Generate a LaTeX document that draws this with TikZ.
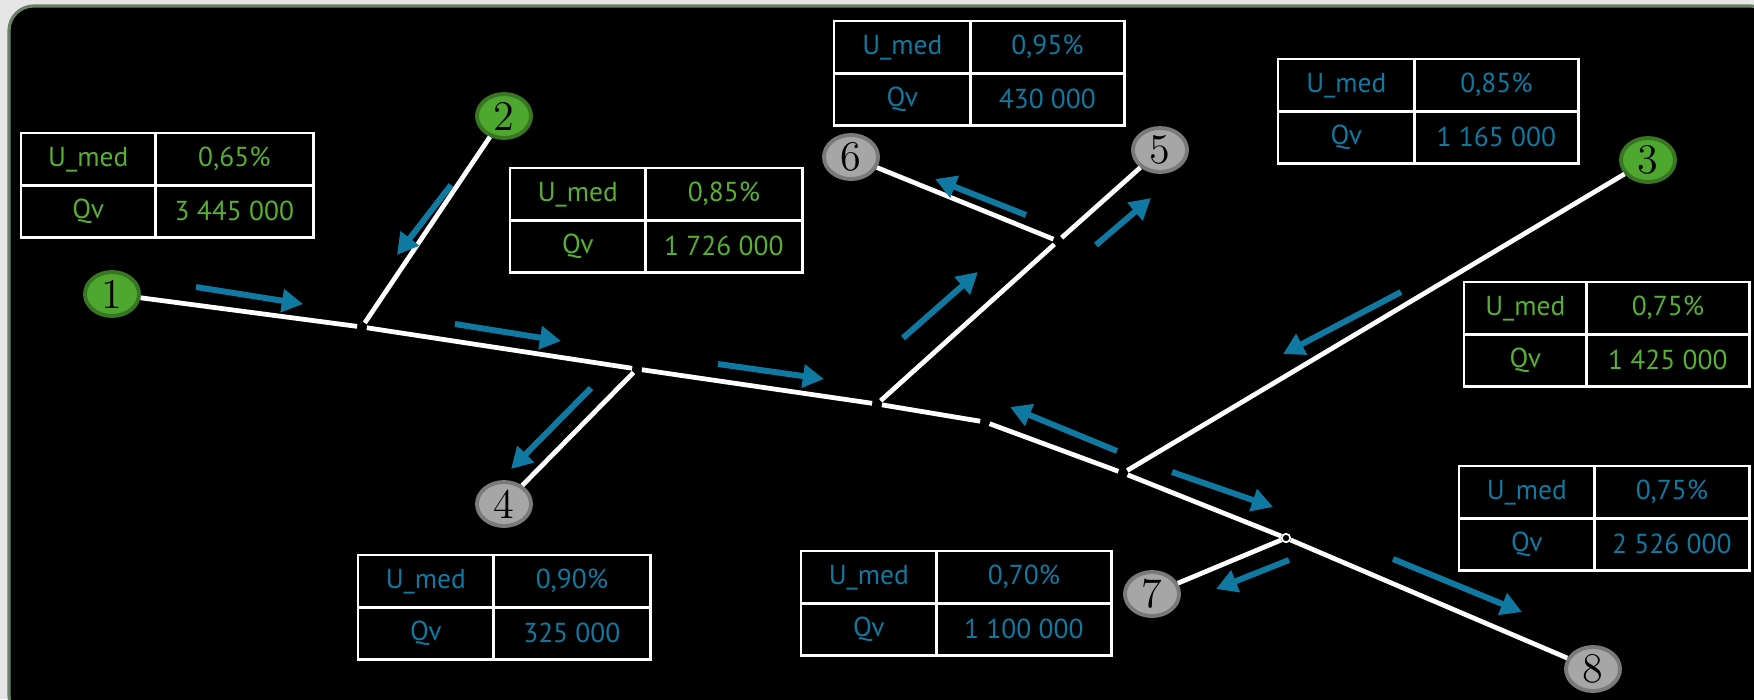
\documentclass[tikz,border=0pt]{standalone}
\usepackage{fontspec}
\setsansfont{PT Sans}
\usepackage{tikz}
\usetikzlibrary{positioning,shapes.geometric,arrows.meta}

\definecolor{flowblue}{RGB}{16,121,161}
\definecolor{srcgreen}{RGB}{78,167,46}
\definecolor{srcedge}{RGB}{56,118,34}
\definecolor{txtgreen}{RGB}{88,176,50}
\definecolor{sinkgray}{RGB}{166,166,166}
\definecolor{sinkedge}{RGB}{122,122,122}
\definecolor{frameedge}{RGB}{106,128,104}
\definecolor{pagegray}{RGB}{230,230,230}

\tikzset{
    src/.style={ellipse, draw=srcedge, fill=srcgreen, line width=1.1pt,
        minimum width=0.54cm, minimum height=0.44cm, inner sep=0pt,
        font=\fontsize{12}{12}\selectfont},
    sink/.style={src, draw=sinkedge, fill=sinkgray},
    jdot/.style={circle, fill=black, inner sep=0pt, minimum size=2.4pt},
    pipe/.style={draw=white, line width=1.35pt},
    flow/.style={draw=flowblue, line width=1.7pt, -{Triangle[length=6pt,width=6.4pt]}},
    utab/.style 2 args={anchor=north west, inner sep=0pt, outer sep=0pt,
        column sep=-0.7pt, row sep=-0.7pt,
        nodes={draw=white, line width=0.7pt, minimum height=0.52cm, inner sep=0pt,
            anchor=center, font=\sffamily\fontsize{7.8}{9}\selectfont},
        column 1/.style={nodes={minimum width=#1}},
        column 2/.style={nodes={minimum width=#2}}}
}

\begin{document}
\begin{tikzpicture}[x=0.01cm, y=-0.01cm]
    % page and frame
    \fill[pagegray] (0,0) rectangle (1754,699);
    \useasboundingbox (0,0) rectangle (1754,699);
    \clip (0,0) rectangle (1754,699);
    \draw[frameedge, fill=black, line width=0.9pt, rounded corners=7pt] (9,6) rectangle (1775,720);

    % end points
    \node[src] (n1) at (112,294) {1};
    \node[src] (n2) at (504,116) {2};
    \node[src] (n3) at (1648,160) {3};
    \node[sink] (n4) at (504,504) {4};
    \node[sink] (n5) at (1160,150) {5};
    \node[sink] (n6) at (851,157) {6};
    \node[sink] (n7) at (1152,594) {7};
    \node[sink] (n8) at (1593,669) {8};

    % junctions
    \node[jdot] (j1) at (362,327) {};
    \node[jdot] (j2) at (637,369) {};
    \node[jdot] (j3) at (877,404) {};
    \node[jdot] (j4) at (985,422) {};
    \node[jdot] (j5) at (1123,473) {};
    \node[jdot, draw=white, line width=0.5pt] (j6) at (1286,538) {};
    \node[jdot] (j7) at (1058,241) {};

    % pipes
    \draw[pipe] (j1) edge (n1) edge (n2) edge (j2);
    \draw[pipe] (j2) edge (n4) edge (j3);
    \draw[pipe] (j3) edge (j7) edge (j4);
    \draw[pipe] (j7) edge (n5) edge (n6);
    \draw[pipe] (j4) edge (j5);
    \draw[pipe] (j5) edge (n3) edge (j6);
    \draw[pipe] (j6) edge (n7) edge (n8);

    % flow directions
    \draw[flow] (196,287) -- (303,304);
    \draw[flow] (451,185) -- (397,255);
    \draw[flow] (455,324) -- (561,341);
    \draw[flow] (591,388) -- (511,469);
    \draw[flow] (718,364) -- (824,379);
    \draw[flow] (903,338) -- (978,272);
    \draw[flow] (1026,215) -- (935,179);
    \draw[flow] (1096,245) -- (1151,198);
    \draw[flow] (1401,292) -- (1283,354);
    \draw[flow] (1117,451) -- (1010,407);
    \draw[flow] (1172,472) -- (1273,507);
    \draw[flow] (1289,560) -- (1216,589);
    \draw[flow] (1393,559) -- (1522,612);

    % value tables
    \matrix[utab={1.34cm}{1.58cm}, nodes={text=txtgreen}] (t1) at (20,132) {
        \node {U\_med}; & \node {0,65\%}; \\
        \node {Qv}; & \node {3 445 000}; \\
    };
    \matrix[utab={1.35cm}{1.57cm}, nodes={text=txtgreen}] (t2) at (509,167) {
        \node {U\_med}; & \node {0,85\%}; \\
        \node {Qv}; & \node {1 726 000}; \\
    };
    \matrix[utab={1.36cm}{1.54cm}, nodes={text=flowblue}] (t3) at (833,20) {
        \node {U\_med}; & \node {0,95\%}; \\
        \node {Qv}; & \node {430 000}; \\
    };
    \matrix[utab={1.36cm}{1.64cm}, nodes={text=flowblue}] (t4) at (1277,58) {
        \node {U\_med}; & \node {0,85\%}; \\
        \node {Qv}; & \node {1 165 000}; \\
    };
    \matrix[utab={1.22cm}{1.63cm}, nodes={text=txtgreen}] (t5) at (1463,281) {
        \node {U\_med}; & \node {0,75\%}; \\
        \node {Qv}; & \node {1 425 000}; \\
    };
    \matrix[utab={1.35cm}{1.55cm}, nodes={text=flowblue}] (t6) at (1458,465) {
        \node {U\_med}; & \node {0,75\%}; \\
        \node {Qv}; & \node {2 526 000}; \\
    };
    \matrix[utab={1.35cm}{1.75cm}, nodes={text=flowblue}] (t7) at (800,550) {
        \node {U\_med}; & \node {0,70\%}; \\
        \node {Qv}; & \node {1 100 000}; \\
    };
    \matrix[utab={1.35cm}{1.57cm}, nodes={text=flowblue}] (t8) at (357,554) {
        \node {U\_med}; & \node {0,90\%}; \\
        \node {Qv}; & \node {325 000}; \\
    };
\end{tikzpicture}
\end{document}
